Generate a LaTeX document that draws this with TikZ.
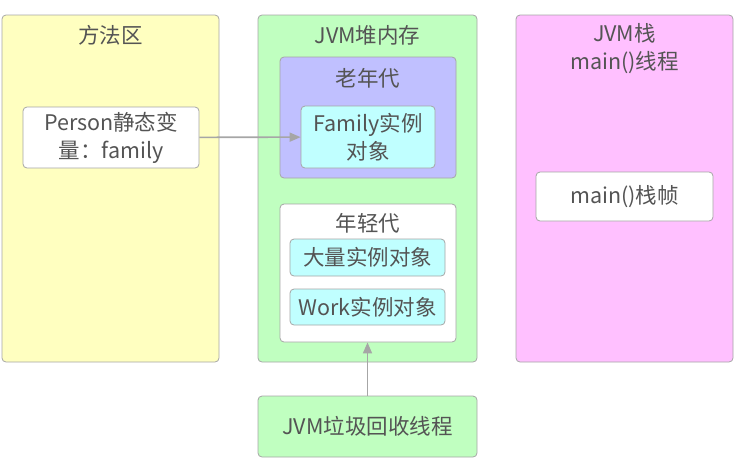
\documentclass[tikz,border=0pt]{standalone}
\usepackage{fontspec}
\setmainfont{Noto Sans CJK SC}
\usepackage{xcolor}
\usepackage{tikz}
\usetikzlibrary{arrows.meta,positioning}
\definecolor{npYellow}{RGB}{255,255,192}
\definecolor{npGreen}{RGB}{192,255,192}
\definecolor{npPurple}{RGB}{192,192,255}
\definecolor{npCyan}{RGB}{192,255,255}
\definecolor{npPink}{RGB}{255,192,255}
\definecolor{npBorder}{RGB}{166,166,166}
\definecolor{npText}{RGB}{84,84,84}

\begin{document}
\begin{tikzpicture}[x=1pt,y=-1pt,
    every node/.style={font=\fontsize{21.5}{28}\selectfont, text=npText},
    area/.style={draw=npBorder, rounded corners=4pt, line width=0.8pt, inner sep=0pt},
    item/.style={area, align=center},
    areaTitle/.style={align=center, inner sep=0pt},
    flow/.style={draw=npBorder, line width=1.6pt, -{Triangle[length=11pt,width=9pt]}}
]
    \useasboundingbox (0,0) rectangle (735,472);

    % three memory areas
    \node[area, fill=npYellow, minimum width=217, minimum height=347] (methodArea) at (110.5,188.5) {};
    \node[area, fill=npGreen, minimum width=219, minimum height=347] (heap) at (367.5,188.5) {};
    \node[area, fill=npPink, minimum width=217, minimum height=347] (stack) at (624.5,188.5) {};

    \node[areaTitle] (methodTitle) at (110.5,35) {方法区};
    \node[areaTitle] (heapTitle) at (367.5,35) {JVM堆内存};
    \node[areaTitle] (stackTitle) at (624.5,49) {JVM栈\\main()线程};

    % generations inside the heap
    \node[area, fill=npPurple, minimum width=176, minimum height=121] (oldGen) at (368,117.5) {};
    \node[area, fill=white, minimum width=176, minimum height=138] (youngGen) at (368,273) {};
    \node[areaTitle] (oldTitle) at (368,78) {老年代};
    \node[areaTitle] (youngTitle) at (368,223) {年轻代};

    % objects
    \node[item, fill=white, minimum width=176, minimum height=61] (person) at (111,137.5) {Person静态变\\量：family};
    \node[item, fill=npCyan, minimum width=134, minimum height=62] (family) at (368,137) {Family实例\\对象};
    \node[item, fill=npCyan, minimum width=155, minimum height=37] (massObj) at (367.5,257.5) {大量实例对象};
    \node[item, fill=npCyan, minimum width=155, minimum height=36] (workObj) at (367.5,307) {Work实例对象};
    \node[item, fill=white, minimum width=177, minimum height=49] (mainFrame) at (624.5,196.5) {main()栈帧};

    % gc thread
    \node[item, fill=npGreen, minimum width=219, minimum height=61] (gcThread) at (367.5,426.5) {JVM垃圾回收线程};

    % references
    \draw[flow] (person) -- (family);
    \draw[flow] (gcThread.north) -- (gcThread.north |- youngGen.south);
\end{tikzpicture}
\end{document}
